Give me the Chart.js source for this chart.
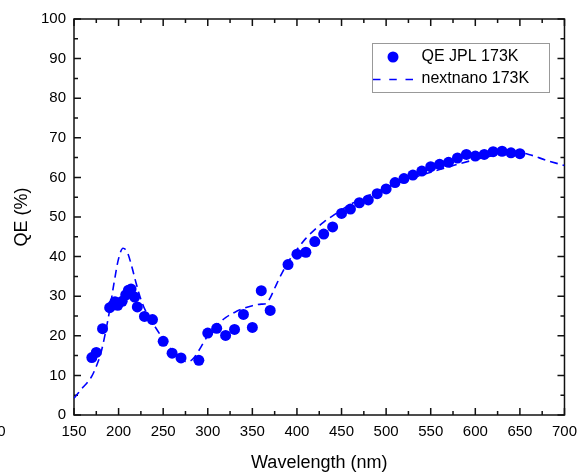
<!DOCTYPE html>
<html>
<head>
<meta charset="utf-8">
<script src="https://cdn.jsdelivr.net/npm/chart.js@4.4.1/dist/chart.umd.min.js"></script>
<style>
html,body{margin:0;padding:0;background:#fff;}
#my_canvas{display:block;}
</style>
</head>
<body>
<canvas id="my_canvas" width="585" height="472"></canvas>
<script>
// measured QE points
const qe_wavelength = [170,175,182,190,194,196,199,204,208,211,214,218,221,229,238,250,260,270,
    290,300,310,320,330,340,350,360,370,
    390,400,410,420,430,440,450,460,470,480,490,500,510,520,530,540,550,560,570,580,590,600,610,620,630,640,650];
const qe_values = [14.5,15.8,21.8,27.1,27.8,28.6,27.7,28.7,30.3,31.5,31.8,29.8,27.3,24.9,24.1,18.6,15.6,14.4,
    13.8,20.7,21.9,20.1,21.6,25.4,22.1,31.4,26.4,
    38.0,40.6,41.1,43.8,45.7,47.5,50.9,52.0,53.6,54.3,55.9,57.1,58.7,59.7,60.6,61.6,62.7,63.3,63.8,64.9,65.8,65.4,65.8,66.5,66.6,66.2,66.0];

// simulated curve
const sim_wavelength = [150,155,160,165,170,175,180,185,190,195,200,205,210,215,220,225,230,
    240,250,260,270,275,280,285,290,295,300,310,320,330,340,350,360,
    365,370,375,380,385,390,400,410,420,430,440,450,460,
    480,500,520,540,560,580,600,620,640,650,660,680,700];
const sim_values = [4.2,5.6,7.0,8.2,9.8,12.3,15.5,20.5,26.5,33.5,39.5,42.1,41.0,37.3,33.0,29.2,26.4,
    22.6,19.2,16.3,14.2,13.5,13.6,14.6,16.3,18.2,20.0,22.6,24.6,25.9,26.9,27.6,28.0,
    28.1,29.6,32.0,34.4,36.6,38.6,41.8,44.6,46.8,48.7,50.3,51.8,53.2,
    55.4,57.4,59.1,60.6,62.0,63.3,64.5,65.5,66.2,66.2,65.8,64.3,63.0];

const series_names = ['QE JPL 173K', 'nextnano 173K'];
const x_title = 'Wavelength (nm)';
const y_title = 'QE (%)';
const x_range = [150, 700];
const y_range = [0, 100];

const blue = '#0000ff';
const font_name = "'Liberation Sans', Arial, sans-serif";

function toPoints(xs, ys){
    return xs.map((x, i) => ({x: x, y: ys[i]}));
}

// box frame with inward ticks on all four sides
const framePlugin = {
    id: 'frame',
    beforeDatasetsDraw(chart){
        const {ctx, chartArea: a, scales: {x, y}} = chart;
        ctx.save();
        ctx.strokeStyle = '#111';
        ctx.lineWidth = 1.5;
        ctx.beginPath();
        for(let v = x_range[0]; v <= x_range[1]; v += 25){
            const px = x.getPixelForValue(v);
            const len = (v % 50 === 0) ? 7 : 4;
            ctx.moveTo(px, a.bottom); ctx.lineTo(px, a.bottom - len);
            ctx.moveTo(px, a.top); ctx.lineTo(px, a.top + len);
        }
        for(let v = y_range[0]; v <= y_range[1]; v += 5){
            const py = y.getPixelForValue(v);
            const len = (v % 10 === 0) ? 7 : 4;
            ctx.moveTo(a.left, py); ctx.lineTo(a.left + len, py);
            ctx.moveTo(a.right, py); ctx.lineTo(a.right - len, py);
        }
        ctx.stroke();
        ctx.strokeRect(a.left, a.top, a.right - a.left, a.bottom - a.top);
        ctx.restore();
    }
};

// legend box in the upper right
const legendPlugin = {
    id: 'boxLegend',
    afterDraw(chart){
        const ctx = chart.ctx;
        ctx.save();
        ctx.strokeStyle = '#999';
        ctx.lineWidth = 1;
        ctx.strokeRect(372.5, 43.5, 177, 49);

        ctx.fillStyle = blue;
        ctx.beginPath();
        ctx.arc(393, 57, 5.5, 0, Math.PI * 2);
        ctx.fill();

        ctx.strokeStyle = blue;
        ctx.lineWidth = 1.6;
        ctx.setLineDash([7.5, 8.75]);
        ctx.beginPath();
        ctx.moveTo(373, 79.5);
        ctx.lineTo(413, 79.5);
        ctx.stroke();
        ctx.setLineDash([]);

        ctx.fillStyle = '#000';
        ctx.font = '16px ' + font_name;
        ctx.textAlign = 'left';
        ctx.textBaseline = 'middle';
        ctx.fillText(series_names[0], 421.5, 57);
        ctx.fillText(series_names[1], 421.5, 79);

        // clipped label at the far left edge
        ctx.font = '15px ' + font_name;
        ctx.textAlign = 'right';
        ctx.fillText('0', 5.5, 432);
        ctx.restore();
    }
};

const canvas_element = document.getElementById('my_canvas').getContext('2d');

const the_chart = new Chart(canvas_element, {
    type: 'scatter',
    data: {
        datasets: [{
            label: series_names[0],
            data: toPoints(qe_wavelength, qe_values),
            backgroundColor: blue,
            borderColor: blue,
            pointRadius: 5.5,
            pointBorderWidth: 0,
            showLine: false,
            order: 0
        }, {
            label: series_names[1],
            data: toPoints(sim_wavelength, sim_values),
            borderColor: blue,
            borderWidth: 1.6,
            borderDash: [8, 5],
            pointRadius: 0,
            showLine: true,
            tension: 0.4,
            cubicInterpolationMode: 'monotone',
            order: 1
        }]
    },
    options: {
        responsive: false,
        animation: false,
        devicePixelRatio: 1,
        layout: {
            padding: {top: 19, right: 18, left: 0, bottom: 0}
        },
        plugins: {
            legend: {display: false},
            tooltip: {enabled: false}
        },
        scales: {
            x: {
                type: 'linear',
                min: x_range[0],
                max: x_range[1],
                afterFit: (scale) => { scale.height = 57; },
                grid: {display: false, drawTicks: false},
                border: {display: false},
                ticks: {
                    stepSize: 50,
                    autoSkip: false,
                    maxRotation: 0,
                    padding: 8,
                    color: '#000',
                    font: {family: font_name, size: 15}
                },
                title: {
                    display: true,
                    text: x_title,
                    color: '#000',
                    font: {family: font_name, size: 18, lineHeight: 1},
                    padding: {top: 0, bottom: 0}
                }
            },
            y: {
                type: 'linear',
                min: y_range[0],
                max: y_range[1],
                afterFit: (scale) => { scale.width = 74; },
                grid: {display: false, drawTicks: false},
                border: {display: false},
                ticks: {
                    stepSize: 10,
                    padding: 8,
                    color: '#000',
                    font: {family: font_name, size: 15}
                },
                title: {
                    display: true,
                    text: y_title,
                    color: '#000',
                    font: {family: font_name, size: 18, lineHeight: 1},
                    padding: {top: 13.5, bottom: 0}
                }
            }
        }
    },
    plugins: [framePlugin, legendPlugin]
});
</script>
</body>
</html>
